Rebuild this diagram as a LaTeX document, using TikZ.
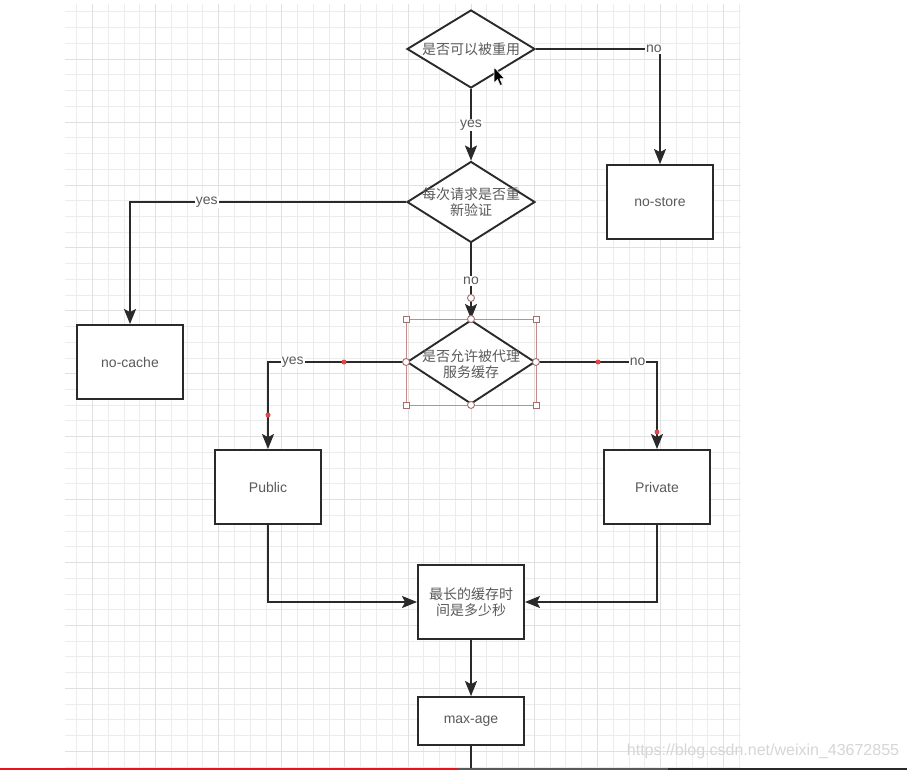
\documentclass[tikz,border=0pt]{standalone}
\usepackage{fontspec}
\setmainfont{Liberation Sans}
\newfontfamily\cjk{Noto Sans CJK SC}
\usetikzlibrary{shapes.geometric,arrows.meta}
\definecolor{gridminor}{HTML}{ECECEC}
\definecolor{gridmajor}{HTML}{E0E0E0}
\definecolor{edgecol}{HTML}{2A2A2A}
\definecolor{txt}{HTML}{5A5A5A}
\definecolor{selcol}{HTML}{C98A8A}
\definecolor{wpcol}{HTML}{E04848}
\definecolor{wmcol}{HTML}{D6D6D6}
\definecolor{barred}{HTML}{E8141B}
\definecolor{bargray}{HTML}{5A5A5A}
\definecolor{bardark}{HTML}{2A2A2A}
\begin{document}
\begin{tikzpicture}[x=1pt,y=-1pt,
  basefont/.style={font=\fontsize{14}{17}\selectfont},
  proc/.style={draw=edgecol, line width=1.9pt, fill=white, minimum width=106pt,
    minimum height=74pt, inner sep=0pt, text=txt, basefont, align=center},
  dia/.style={draw=edgecol, line width=1.9pt, fill=white, shape=diamond,
    minimum width=128pt, inner sep=0pt},
  dtext/.style={text=txt, basefont, align=center, inner sep=0pt},
  conn/.style={draw=edgecol, line width=1.7pt,
    -{Stealth[length=15pt,width=12pt,inset=3pt]}},
  plain/.style={draw=edgecol, line width=1.7pt},
  lbl/.style={fill=white, inner sep=1pt, text=txt, basefont},
  handle/.style={draw=selcol!80!black, fill=white, line width=0.7pt,
    minimum size=6pt, inner sep=0pt, shape=rectangle},
  chandle/.style={draw=selcol!80!black, fill=white, line width=0.9pt,
    minimum size=7pt, inner sep=0pt, shape=circle},
  wpdot/.style={fill=wpcol, shape=circle, minimum size=5pt, inner sep=0pt}
]
\useasboundingbox (0,0) rectangle (907,770);
\fill[white] (0,0) rectangle (907,770);
% grid
\begin{scope}
\clip (65,4) rectangle (741,767);
\foreach \i in {0,...,42} {
  \draw[gridminor, line width=1pt] ({76.7+15.78*\i},4) -- ++(0,763);
}
\foreach \j in {0,...,48} {
  \draw[gridminor, line width=1pt] (65,{12+15.73*\j}) -- ++(676,0);
}
\foreach \i in {1,5,...,41} {
  \draw[gridmajor, line width=1pt] ({76.7+15.78*\i},4) -- ++(0,763);
}
\foreach \j in {3,7,...,47} {
  \draw[gridmajor, line width=1pt] (65,{12+15.73*\j}) -- ++(676,0);
}
\end{scope}

% shapes
\node[dia, minimum height=78pt] (d1) at (471,49) {};
\node[dtext] (d1t) at (d1) {\cjk 是否可以被重用};
\node[proc] (ns) at (660,202) {no-store};
\node[dia, minimum height=81pt] (d2) at (471,202) {};
\node[dtext] (d2t) at (d2) {\cjk 每次请求是否重\\[-1pt]\cjk 新验证};
\node[proc] (nc) at (130,362) {no-cache};
\node[dia, minimum height=84pt] (d3) at (471,362) {};
\node[dtext] (d3t) at (471,364) {\cjk 是否允许被代理\\[-1pt]\cjk 服务缓存};
\node[proc] (pub) at (268,487) {Public};
\node[proc] (pri) at (657,487) {Private};
\node[proc] (mx) at (471,602) {\cjk 最长的缓存时\\[-1pt]\cjk 间是多少秒};
\node[proc, minimum height=48pt] (ma) at (471,721) {max-age};
\coordinate (bottomend) at (471,772);

% connectors
\draw[conn] (d1.east) -| (ns.north) node[lbl, pos=0.475] (l1) {no};
\draw[conn] (d1.south) -- (d2.north) node[lbl, pos=0.5] (l2) {yes};
\draw[conn] (d2.west) -| (nc.north) node[lbl, pos=0.361] (l3) {yes};
\draw[conn] (d2.south) -- (d3.north) node[lbl, pos=0.5] (l4) {no};
\draw[conn] (d3.west) -| (pub.north) node[lbl, pos=0.41] (l5) {yes};
\draw[conn] (d3.east) -| (pri.north) node[lbl, pos=0.42] (l6) {no};
\draw[conn] (pub.south) |- (mx.west);
\draw[conn] (pri.south) |- (mx.east);
\draw[conn] (mx.south) -- (ma.north);
\draw[plain] (ma.south) -- (bottomend);

% selection overlay on d3
\draw[selcol, line width=0.7pt] (d3.west |- d3.north) rectangle (d3.east |- d3.south);
\node[handle] (h1) at (d3.west |- d3.north) {};
\node[handle] (h2) at (d3.east |- d3.north) {};
\node[handle] (h3) at (d3.west |- d3.south) {};
\node[handle] (h4) at (d3.east |- d3.south) {};
\node[chandle] (c1) at (d3.north) {};
\node[chandle] (c2) at (d3.south) {};
\node[chandle] (c3) at (d3.west) {};
\node[chandle] (c4) at (d3.east) {};
\node[chandle] (c5) at (471,298) {};
% waypoint dots
\node[wpdot] (w1) at (344,362) {};
\node[wpdot] (w2) at (268,415) {};
\node[wpdot] (w3) at (598,362) {};
\node[wpdot] (w4) at (657,432) {};

% mouse cursor
\filldraw[fill=black, draw=white, line width=0.6pt, line join=round]
  (494,67) -- (494,83) -- (497.5,79.5) -- (500.2,85.5) -- (502.4,84.5)
  -- (499.8,78.6) -- (504.5,78.6) -- cycle;

% watermark
\node[text=wmcol, inner sep=0pt, font=\fontsize{16}{18}\selectfont] (wm) at (763,751) {https://blog.csdn.net/weixin\_43672855};

% video progress bar
\fill[barred] (0,767.5) rectangle (457,770);
\fill[bargray] (457,767.5) rectangle (668,770);
\fill[bardark] (668,767.5) rectangle (907,770);
\end{tikzpicture}
\end{document}
